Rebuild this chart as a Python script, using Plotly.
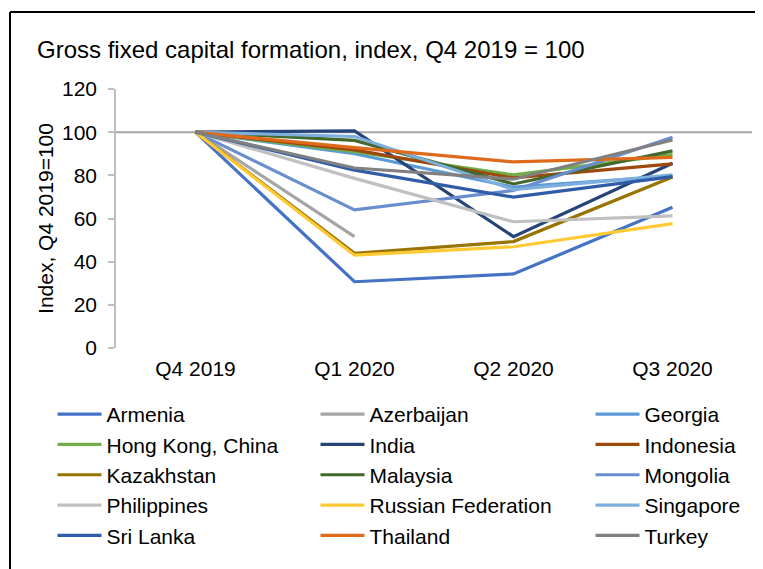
import plotly.graph_objects as go

quarters = ["Q4 2019", "Q1 2020", "Q2 2020", "Q3 2020"]

armenia = [100, 30.7, 34.3, 65.2]
azerbaijan = [100, 51.6, None, None]
georgia = [100, 90.0, 74.5, 79.6]
hong_kong = [100, 91.0, 80.2, 89.6]
india = [100, 100.6, 51.6, 85.6]
indonesia = [100, 91.8, 78.8, 85.3]
kazakhstan = [100, 43.9, 49.3, 79.2]
malaysia = [100, 96.2, 76.0, 91.3]
mongolia = [100, 64.0, 73.0, 97.6]
philippines = [100, 78.6, 58.5, 61.2]
russia = [100, 43.0, 46.9, 57.6]
singapore = [100, 98.0, 73.4, 80.2]
sri_lanka = [100, 82.4, 69.9, 79.4]
thailand = [100, 92.8, 86.2, 88.3]
turkey = [100, 83.4, 78.2, 96.4]

# (name, values, colour, legend column)
series = [
    ("Armenia", armenia, "#4472C4", "legend"),
    ("Azerbaijan", azerbaijan, "#A5A5A5", "legend2"),
    ("Georgia", georgia, "#5B9BD5", "legend3"),
    ("Hong Kong, China", hong_kong, "#70AD47", "legend"),
    ("India", india, "#264478", "legend2"),
    ("Indonesia", indonesia, "#9E480E", "legend3"),
    ("Kazakhstan", kazakhstan, "#997300", "legend"),
    ("Malaysia", malaysia, "#43682B", "legend2"),
    ("Mongolia", mongolia, "#698ED0", "legend3"),
    ("Philippines", philippines, "#C0C0C0", "legend"),
    ("Russian Federation", russia, "#FFC933", "legend2"),
    ("Singapore", singapore, "#7CAFDD", "legend3"),
    ("Sri Lanka", sri_lanka, "#2E5CA8", "legend"),
    ("Thailand", thailand, "#DE6A1C", "legend2"),
    ("Turkey", turkey, "#808080", "legend3"),
]

FONT = "Liberation Sans, Arial, sans-serif"

fig = go.Figure()
for name, vals, col, leg in series:
    fig.add_trace(go.Scatter(
        x=quarters, y=vals, name=name, mode="lines", legend=leg,
        line=dict(color=col, width=3.2), connectgaps=False,
    ))

# page has an 8px body margin; work in page pixels and convert
OFF = 8
W, H = 763 - OFF, 569 - OFF
L, T = 116 - OFF, 89 - OFF
R = W - (752 - OFF)
B = H - (348 - OFF)
pw, ph = W - L - R, H - T - B


def px_x(p):
    return (p - OFF - L) / pw


def px_y(p):
    return (H - B - (p - OFF)) / ph


def leg(xpage):
    return dict(orientation="v", x=px_x(xpage), xanchor="left",
                y=px_y(394), yanchor="top", tracegroupgap=0, itemwidth=44,
                font=dict(size=21, family=FONT, color="#000000"),
                bgcolor="rgba(0,0,0,0)", traceorder="normal")


fig.update_layout(
    width=W, height=H,
    margin=dict(l=L, r=R, t=T, b=B, pad=0, autoexpand=False),
    paper_bgcolor="white", plot_bgcolor="white",
    font=dict(family=FONT, size=21, color="#000000"),
    title=dict(text="Gross fixed capital formation, index, Q4 2019 = 100",
               x=(37 - OFF) / W, xref="container", xanchor="left",
               y=1 - (50 - OFF) / H, yref="container", yanchor="middle",
               font=dict(size=24, family=FONT, color="#000000")),
    showlegend=True,
    legend=leg(52.5),
    legend2=leg(315.5),
    legend3=leg(590.5),
    xaxis=dict(type="category", range=[-0.5, 3.5], showgrid=False,
               showline=False, ticks="", zeroline=False,
               ticklabelstandoff=6,
               tickfont=dict(size=21, family=FONT, color="#000000")),
    yaxis=dict(range=[0, 120], dtick=20, tick0=0, showgrid=False,
               showline=True, linecolor="#BFBFBF", linewidth=1.5,
               ticks="outside", ticklen=6, tickcolor="#BFBFBF", tickwidth=1.5,
               zeroline=False, ticklabelstandoff=7,
               tickfont=dict(size=21, family=FONT, color="#000000"),
               title=dict(text="Index, Q4 2019=100", standoff=3,
                          font=dict(size=21, family=FONT, color="#000000"))),
    shapes=[
        dict(type="line", xref="paper", yref="y", x0=0, x1=1, y0=100, y1=100,
             line=dict(color="#A6A6A6", width=2), layer="below"),
        dict(type="line", xref="paper", yref="paper",
             x0=px_x(10), x1=px_x(800), y0=px_y(12), y1=px_y(12),
             line=dict(color="#000000", width=2)),
        dict(type="line", xref="paper", yref="paper",
             x0=px_x(10), x1=px_x(10), y0=px_y(12), y1=px_y(620),
             line=dict(color="#000000", width=2)),
    ],
)

fig.write_html("out.html")
